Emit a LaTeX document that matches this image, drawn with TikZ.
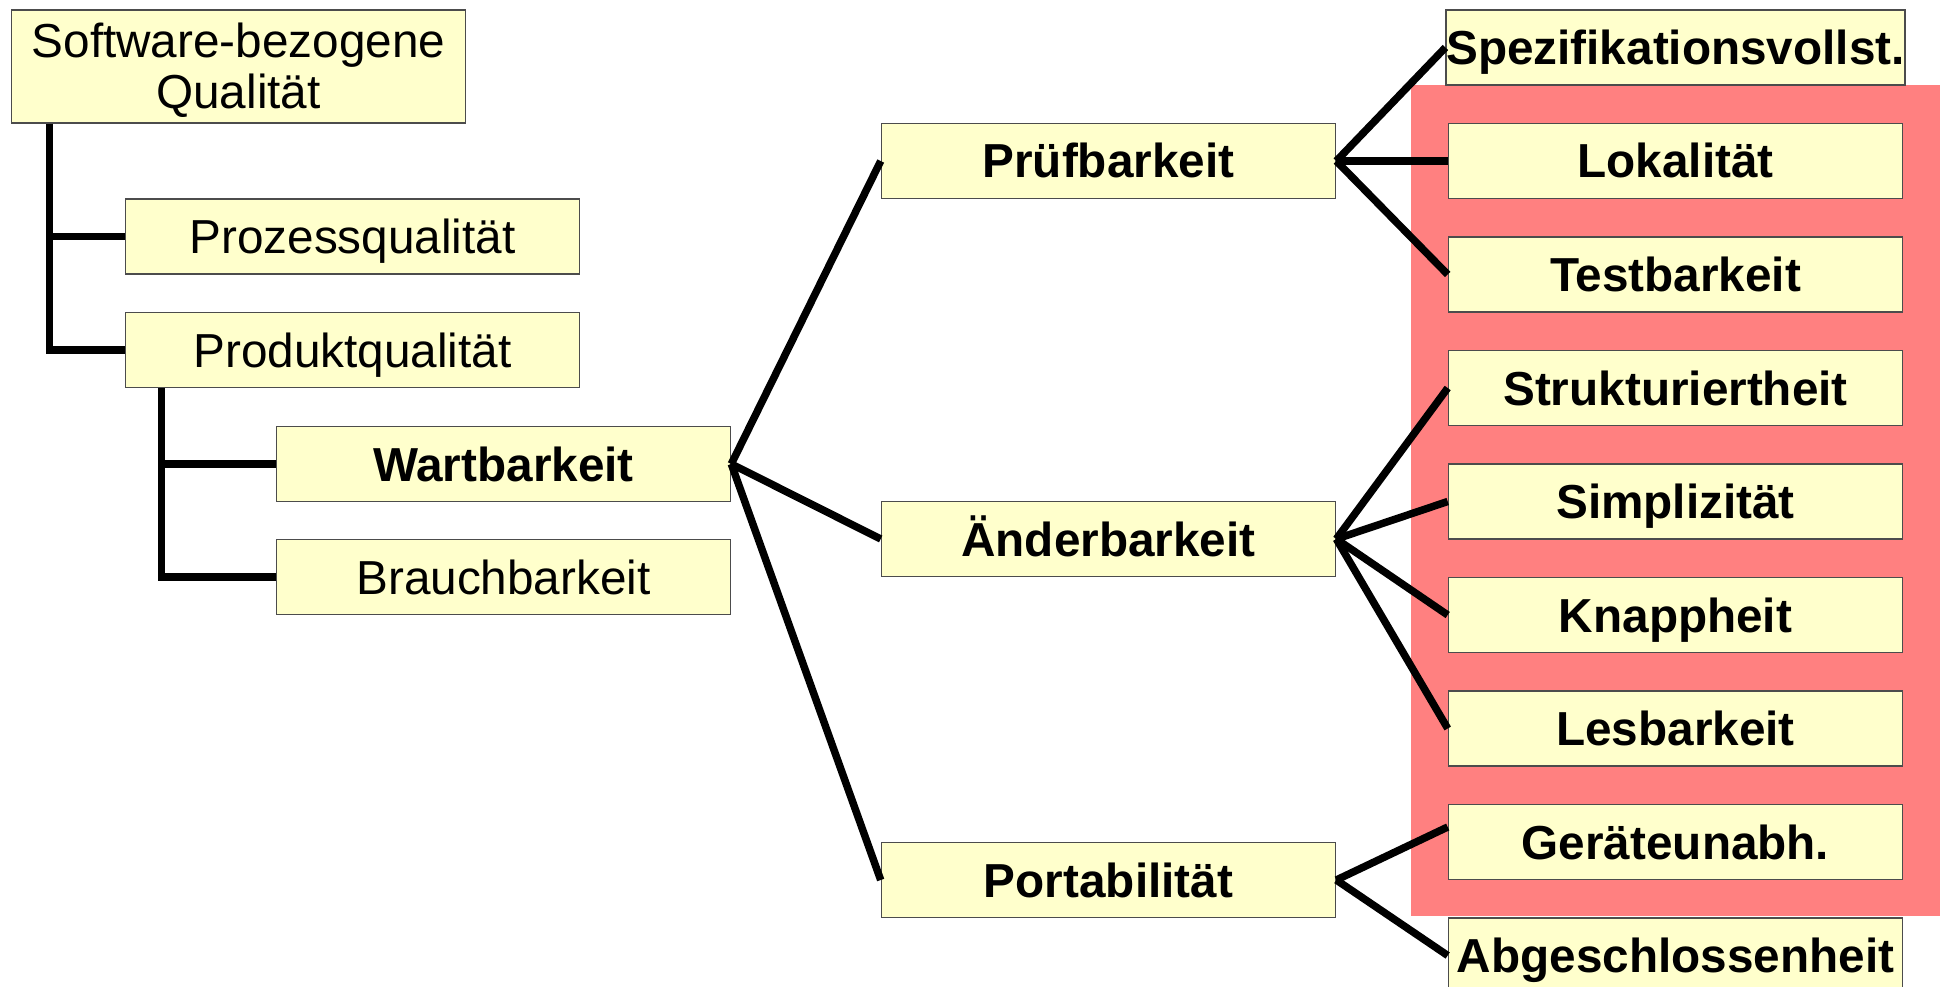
\documentclass[tikz,border=0pt]{standalone}
\usepackage{fontspec}
\setmainfont{Liberation Sans}
\definecolor{boxfill}{HTML}{FFFFCC}
\definecolor{redbg}{HTML}{FF8080}
\begin{document}
\begin{tikzpicture}[x=1pt,y=-1pt,
  box/.style={draw=black!70,line width=1.6pt,fill=boxfill,minimum width=454pt,minimum height=75pt,inner sep=0pt,align=center,text height=34pt,text depth=0pt,font=\fontsize{47.7}{51}\selectfont},
  bbox/.style={box,font=\fontsize{47.7}{51}\selectfont\bfseries},
  conn/.style={line width=7.5pt}]
\useasboundingbox (0,0) rectangle (1952,987);
\clip (0,0) rectangle (1952,987);
\fill[white] (0,0) rectangle (1952,987);
% red highlight
\fill[redbg] (1411,85) rectangle (1940,916);
% nodes
\node[box,minimum height=113pt,text height=,text depth=] (top) at (238.5,66.5) {\raisebox{0pt}[34pt][51pt]{\begin{tabular}[t]{@{}c@{}}Software-bezogene\\Qualität\end{tabular}}};
\node[box] (proz) at (352.5,236.5) {Prozessqualität};
\node[box] (prod) at (352.5,350) {Produktqualität};
\node[bbox] (wart) at (503.5,464) {Wartbarkeit};
\node[box] (brauch) at (503.5,577) {Brauchbarkeit};
\node[bbox] (pruef) at (1108.5,161) {Prüfbarkeit};
\node[bbox] (aender) at (1108.5,539) {Änderbarkeit};
\node[bbox] (port) at (1108.5,880) {Portabilität};
\node[bbox] (spez) at (1675.5,47.5) {Spezifikationsvollst.};
\node[bbox] (lok) at (1675.5,161) {Lokalität};
\node[bbox] (test) at (1675.5,274.5) {Testbarkeit};
\node[bbox] (strukt) at (1675.5,388) {Strukturiertheit};
\node[bbox] (simpl) at (1675.5,501.5) {Simplizität};
\node[bbox] (knapp) at (1675.5,615) {Knappheit};
\node[bbox] (lesbar) at (1675.5,728.5) {Lesbarkeit};
\node[bbox] (ger) at (1675.5,842) {Geräteunabh.};
\node[bbox] (abg) at (1675.5,955.5) {Abgeschlossenheit};
% connectors
\draw[conn] ([xshift=39pt]top.south west) |- (proz.west);
\draw[conn] ([xshift=39pt]top.south west) |- (prod.west);
\draw[conn] ([xshift=37pt]prod.south west) |- (wart.west);
\draw[conn] ([xshift=37pt]prod.south west) |- (brauch.west);
\draw[conn] (wart.east) -- (pruef.west);
\draw[conn] (wart.east) -- (aender.west);
\draw[conn] (wart.east) -- (port.west);
\draw[conn] (pruef.east) -- (spez.west);
\draw[conn] (pruef.east) -- (lok.west);
\draw[conn] (pruef.east) -- (test.west);
\draw[conn] (aender.east) -- (strukt.west);
\draw[conn] (aender.east) -- (simpl.west);
\draw[conn] (aender.east) -- (knapp.west);
\draw[conn] (aender.east) -- (lesbar.west);
\draw[conn] (port.east) -- ([yshift=15pt]ger.west);
\draw[conn] (port.east) -- (abg.west);
\end{tikzpicture}
\end{document}
